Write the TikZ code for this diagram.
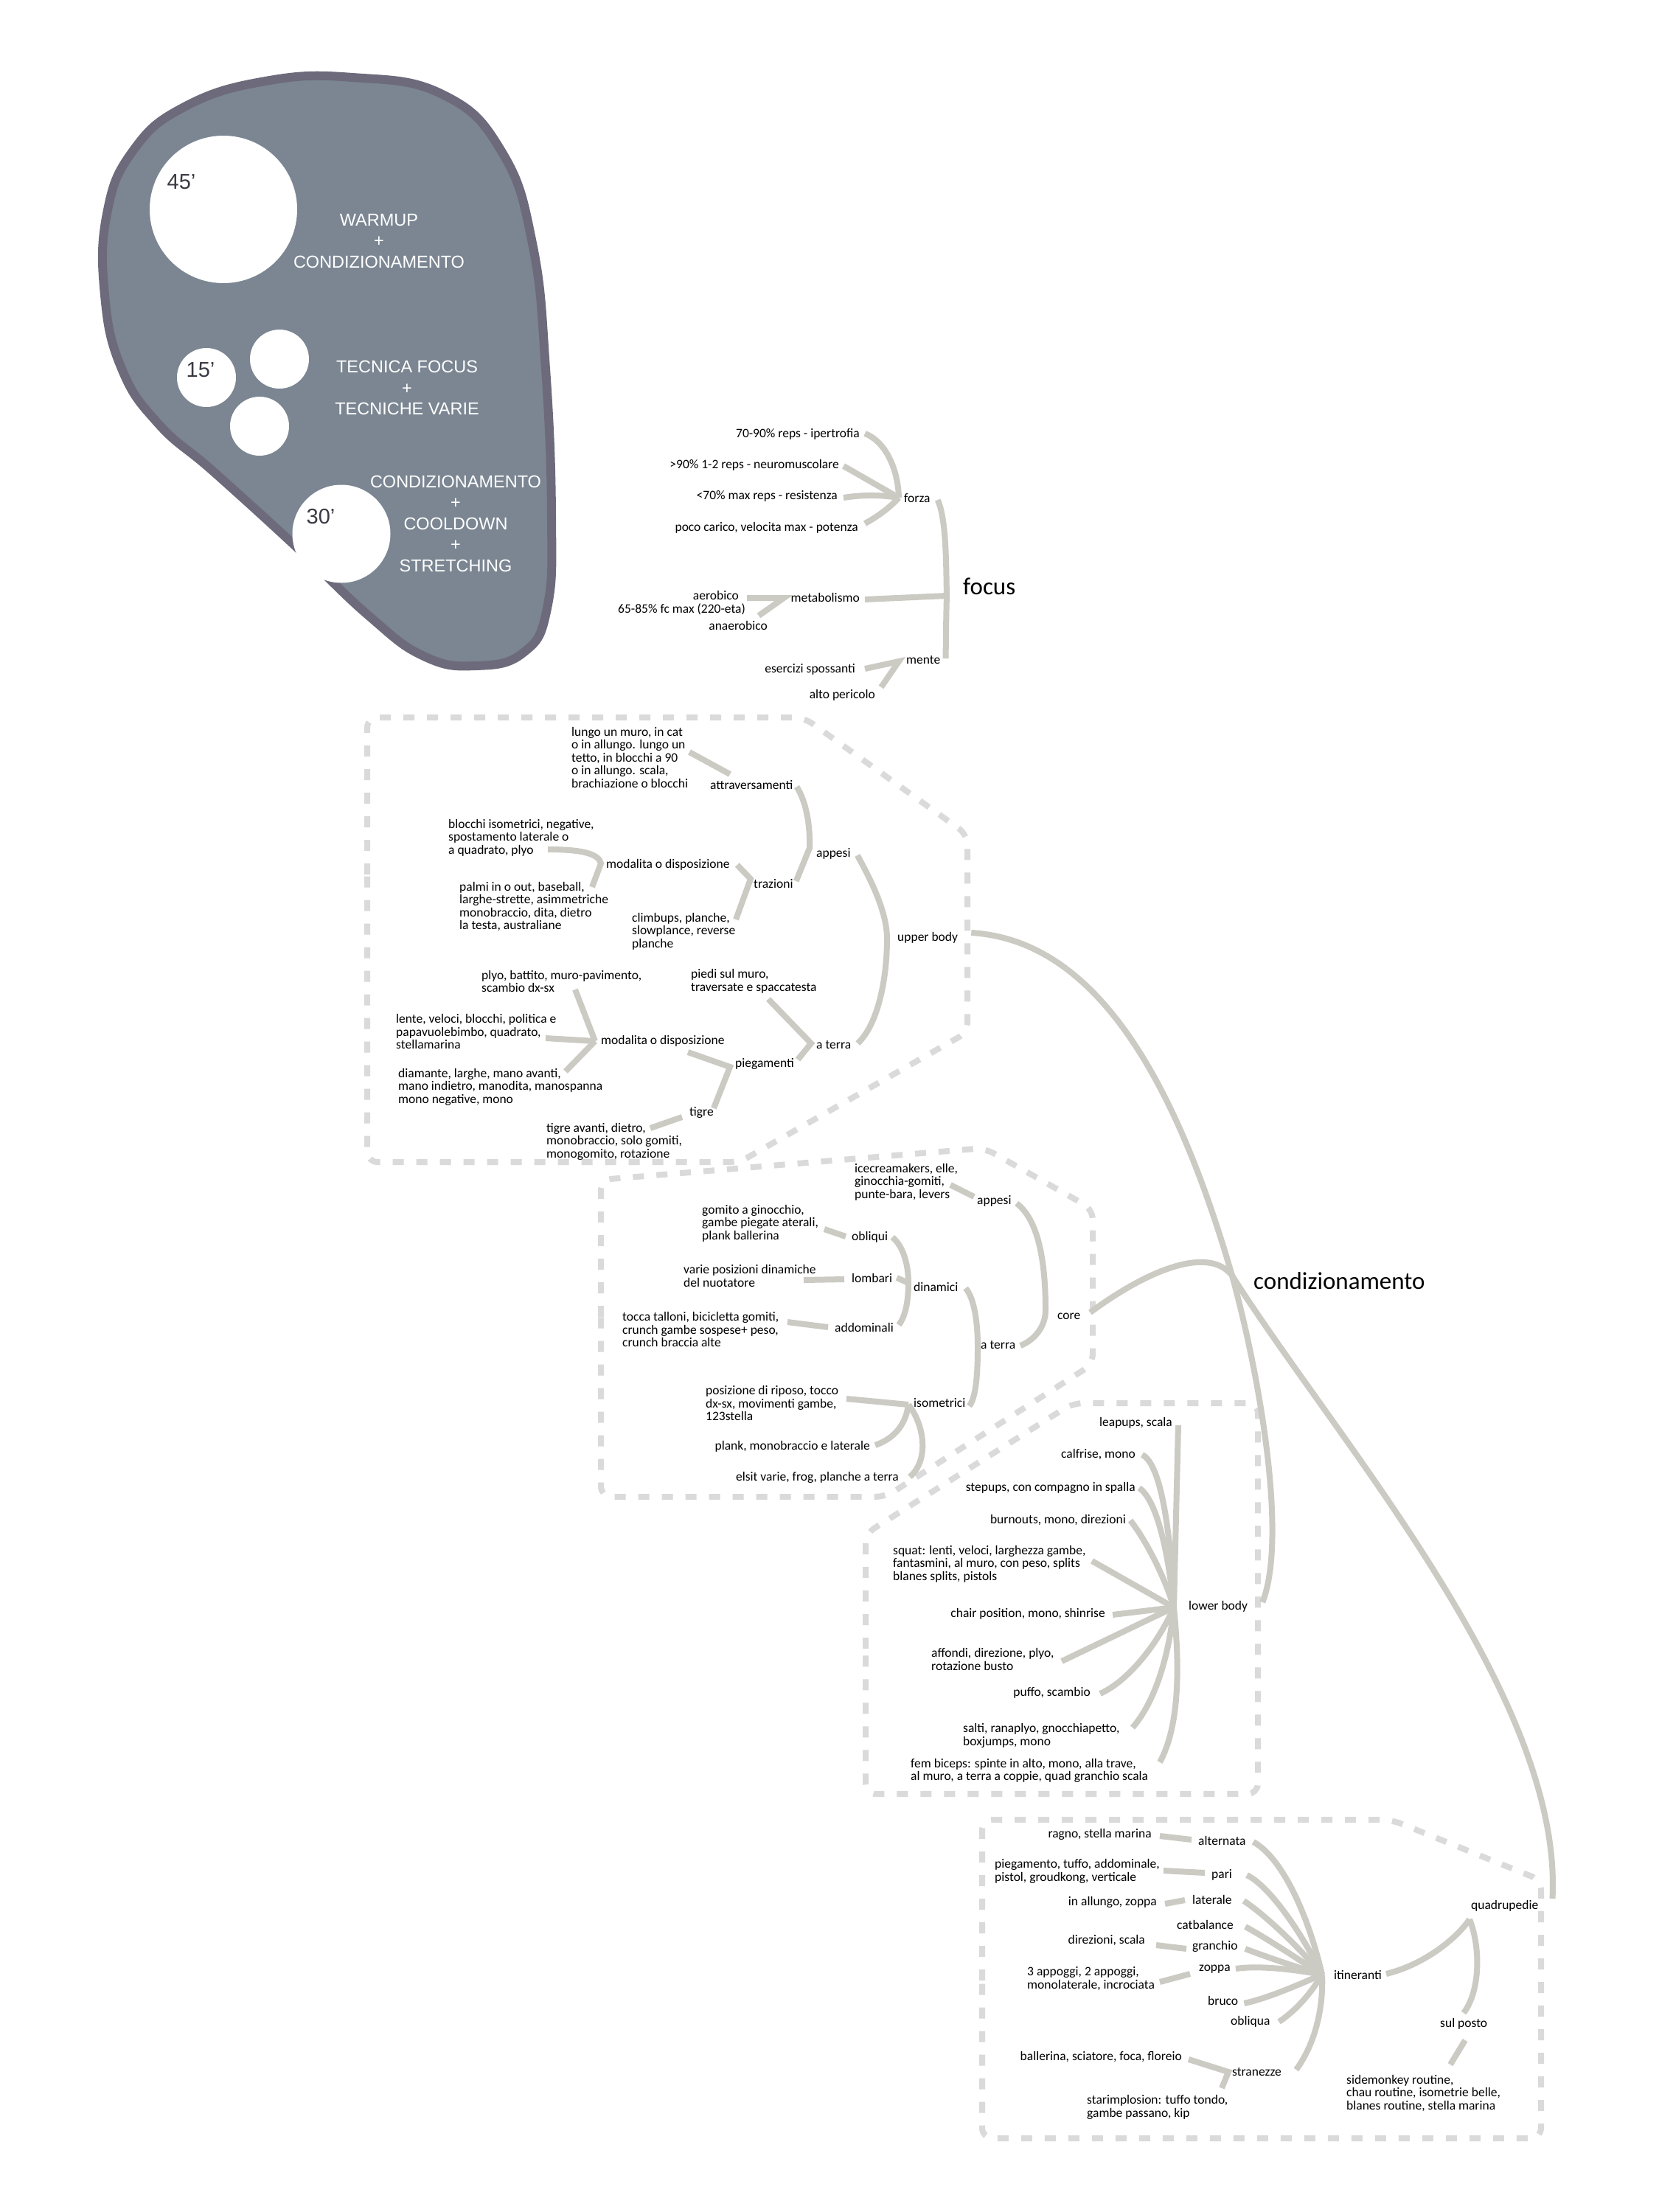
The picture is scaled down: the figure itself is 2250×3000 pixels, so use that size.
\documentclass[tikz,border=0pt]{standalone}
\usepackage{fontspec}
\setmainfont{Carlito}
\newfontfamily\blobfont{Liberation Sans}
\definecolor{linkgrey}{HTML}{CBCAC3}
\definecolor{fencegrey}{HTML}{DADADA}
\definecolor{blobfill}{HTML}{7B8692}
\definecolor{blobedge}{HTML}{6D6A7B}
\definecolor{minsgrey}{HTML}{3A3A44}
\tikzset{
  lbl/.style={inner sep=0pt, align=left, font=\fontsize{17.5}{17.5}\selectfont},
  big/.style={inner sep=0pt, font=\fontsize{33}{36}\selectfont},
  link/.style={draw=linkgrey, line width=8pt},
  fence/.style={draw=fencegrey, line width=8pt, dash pattern=on 15pt off 17pt, rounded corners=14pt},
  spot/.style={circle, fill=white, inner sep=0pt},
  mins/.style={inner sep=0pt, text=minsgrey, font=\blobfont\fontsize{29}{29}\selectfont},
  blobtxt/.style={inner sep=0pt, align=center, text=white, font=\blobfont\fontsize{23.5}{28.5}\selectfont}
}
\begin{document}
\begin{tikzpicture}[x=1pt, y=-1pt]
\useasboundingbox (0,0) rectangle (2250,3000);
\fill[white] (0,0) rectangle (2250,3000);

\draw[blobedge, fill=blobfill, line width=12pt] plot[smooth cycle, tension=0.75] coordinates {(478,105) (600,128) (680,205) (722,330) (740,500) (748,700) (742,825) (710,885) (645,903) (575,890) (500,835) (400,740) (290,640) (215,575) (165,500) (142,400) (145,290) (180,205) (250,145) (360,110)};
\node[spot, minimum size=200pt] (c45) at (303,284) {};
\node[spot, minimum size=80pt] (c15) at (280,512) {};
\node[spot, minimum size=80pt] (c15b) at (379,487) {};
\node[spot, minimum size=80pt] (c15c) at (352,578) {};
\node[spot, minimum size=133pt] (c30) at (463,724) {};
\node[mins] (m45) at (246,247) {45’};
\node[mins] (m15) at (272,502) {15’};
\node[mins] (m30) at (435,701) {30’};
\node[blobtxt] (warm) at (514,327) {WARMUP\\+\\CONDIZIONAMENTO};
\node[blobtxt] (tecn) at (552,526) {TECNICA FOCUS\\+\\TECNICHE VARIE};
\node[blobtxt] (cool) at (618,710) {CONDIZIONAMENTO\\+\\COOLDOWN\\+\\STRETCHING};

\draw[fence] (498,1200) -- (498,973) -- (1090,973) -- (1312,1132) -- (1312,1400) -- (1003,1576) -- (498,1576) -- cycle;
\draw[fence] (815,1800) -- (815,1600) -- (1335,1557) -- (1482,1640) -- (1482,1850) -- (1201,2030) -- (815,2030) -- cycle;
\draw[fence] (1174,2250) -- (1174,2080) -- (1455,1903) -- (1706,1903) -- (1706,2433) -- (1174,2433) -- cycle;
\draw[fence] (1332,2700) -- (1332,2468) -- (1887,2468) -- (2090,2550) -- (2090,2900) -- (1332,2900) -- cycle;

\node[lbl, anchor=east] (ipert) at (1166,589) {70-90\% reps - ipertrofia};
\node[lbl, anchor=east] (neuro) at (1138,631) {>90\% 1-2 reps - neuromuscolare};
\node[lbl, anchor=east] (resist) at (1136,673) {<70\% max reps - resistenza};
\node[lbl, anchor=east] (poten) at (1164,716) {poco carico, velocita max - potenza};
\node[lbl, anchor=west] (forza) at (1226,676) {forza};
\node[lbl, anchor=east] (metab) at (1166,810) {metabolismo};
\node[lbl, anchor=east] (aerob) at (1002,807) {aerobico};
\node[lbl, anchor=east] (fcmax) at (1011,826) {65-85\% fc max (220-eta)};
\node[lbl, anchor=east] (anaer) at (1041,848) {anaerobico};
\node[lbl, anchor=west] (mente) at (1229,895) {mente};
\node[lbl, anchor=east] (sposs) at (1160,908) {esercizi spossanti};
\node[lbl, anchor=east] (pericolo) at (1187,943) {alto pericolo};
\node[big, anchor=west] (focus) at (1306,795) {focus};

\coordinate (forzaJ) at (1219,675);
\coordinate (focusJ) at (1284,808);
\coordinate (metabJ) at (1063,811);
\coordinate (menteJ) at (1219,897);
\draw[link] ([shift={(7,-1)}]ipert.east) .. controls (1200,598) and (1218,635) .. (forzaJ);
\draw[link] ([shift={(6,1)}]neuro.east) -- (forzaJ);
\draw[link] ([shift={(8,2)}]resist.east) .. controls (1175,670) and (1200,672) .. (forzaJ);
\draw[link] ([shift={(9,-6)}]poten.east) .. controls (1195,698) and (1210,685) .. (forzaJ);
\draw[link] ([shift={(10,2)}]forza.east) .. controls (1284,705) and (1283,770) .. (focusJ) .. controls (1283,840) and (1283,870) .. ([shift={(7,-2)}]mente.east);
\draw[link] ([shift={(7,3)}]metab.east) -- (focusJ);
\draw[link] ([shift={(11,4)}]aerob.east) -- (metabJ) -- ([shift={(-12,-13)}]anaer.east);
\draw[link] ([shift={(13,-1)}]sposs.east) -- (menteJ) -- ([shift={(8,-11)}]pericolo.east);

\node[lbl, anchor=west] (muro) at (775,1027) {lungo un muro, in cat\\o in allungo. lungo un\\tetto, in blocchi a 90\\o in allungo. scala,\\brachiazione o blocchi};
\node[lbl, anchor=west] (attrav) at (963,1065) {attraversamenti};
\node[lbl, anchor=west] (isom) at (608,1136) {blocchi isometrici, negative,\\spostamento laterale o\\a quadrato, plyo};
\node[lbl, anchor=west] (modal) at (822,1173) {modalita o disposizione};
\node[lbl, anchor=west] (palmi) at (623,1229.5) {palmi in o out, baseball,\\larghe-strette, asimmetriche\\monobraccio, dita, dietro\\la testa, australiane};
\node[lbl, anchor=west] (climb) at (857,1263) {climbups, planche,\\slowplance, reverse\\planche};
\node[lbl, anchor=west] (trazioni) at (1022,1199) {trazioni};
\node[lbl, anchor=west] (appesi) at (1107,1158) {appesi};
\node[lbl, anchor=west] (upper) at (1217,1272) {upper body};
\node[lbl, anchor=west] (plyo) at (653,1331) {plyo, battito, muro-pavimento,\\scambio dx-sx};
\node[lbl, anchor=west] (lente) at (537,1399) {lente, veloci, blocchi, politica e\\papavuolebimbo, quadrato,\\stellamarina};
\node[lbl, anchor=west] (modalb) at (815,1412) {modalita o disposizione};
\node[lbl, anchor=west] (diam) at (540,1474) {diamante, larghe, mano avanti,\\mano indietro, manodita, manospanna\\mono negative, mono};
\node[lbl, anchor=west] (tigrav) at (741,1548) {tigre avanti, dietro,\\monobraccio, solo gomiti,\\monogomito, rotazione};
\node[lbl, anchor=west] (piedi) at (937,1331) {piedi sul muro,\\traversate e spaccatesta};
\node[lbl, anchor=west] (aterra) at (1107,1417) {a terra};
\node[lbl, anchor=west] (piegam) at (997,1443) {piegamenti};
\node[lbl, anchor=west] (tigre) at (935,1509) {tigre};

\coordinate (modalJ) at (815,1171);
\coordinate (trazJ) at (1018,1192);
\coordinate (appesiJ) at (1098,1150);
\coordinate (upperJ) at (1203,1273);
\coordinate (modalbJ) at (807,1412);
\coordinate (piegJ) at (990,1447);
\coordinate (aterraJ) at (1100,1415);
\draw[link] ([shift={(160,-7)}]muro.west) -- ([shift={(27,-15)}]attrav.west);
\draw[link] ([shift={(135,16)}]isom.west) .. controls (790,1152) and (812,1158) .. (modalJ) -- ([shift={(180,-26.5)}]palmi.west);
\draw[link] ([shift={(10,0)}]modal.east) -- (trazJ) -- ([shift={(141,-16)}]climb.west);
\draw[link] ([shift={(5,2)}]attrav.east) .. controls (1092,1085) and (1099,1115) .. (appesiJ) -- ([shift={(4,-4)}]trazioni.east);
\draw[link] ([shift={(9,2)}]appesi.east) .. controls (1185,1200) and (1203,1240) .. (upperJ) .. controls (1203,1330) and (1190,1390) .. ([shift={(9,-2)}]aterra.east);
\draw[link] ([shift={(127,11)}]plyo.west) -- (modalbJ);
\draw[link] ([shift={(203,9)}]lente.west) -- (modalbJ);
\draw[link] ([shift={(227,-21)}]diam.west) -- (modalbJ);
\draw[link] ([shift={(118,15)}]modalb.west) -- (piegJ) -- ([shift={(0,-6)}]tigre.east);
\draw[link] ([shift={(105,24)}]piedi.west) -- (aterraJ) -- ([shift={(5,-6)}]piegam.east);
\draw[link] ([shift={(141,-18)}]tigrav.west) -- ([shift={(-10,6)}]tigre.west);

\node[lbl, anchor=west] (icecr) at (1159,1603) {icecreamakers, elle,\\ginocchia-gomiti,\\punte-bara, levers};
\node[lbl, anchor=west] (appesc) at (1325,1629) {appesi};
\node[lbl, anchor=west] (gomito) at (952,1659) {gomito a ginocchio,\\gambe piegate aterali,\\plank ballerina};
\node[lbl, anchor=west] (obliq) at (1155,1678) {obliqui};
\node[lbl, anchor=west] (varie) at (927,1730.5) {varie posizioni dinamiche\\del nuotatore};
\node[lbl, anchor=west] (lomb) at (1155,1733) {lombari};
\node[lbl, anchor=west] (tocca) at (844,1803) {tocca talloni, bicicletta gomiti,\\crunch gambe sospese+ peso,\\crunch braccia alte};
\node[lbl, anchor=west] (addom) at (1132,1800) {addominali};
\node[lbl, anchor=west] (dinam) at (1239,1745) {dinamici};
\node[lbl, anchor=west] (aterc) at (1330,1824) {a terra};
\node[lbl, anchor=west] (core) at (1434,1785) {core};
\node[lbl, anchor=west] (iso) at (1239,1903) {isometrici};
\node[lbl, anchor=west] (posiz) at (957,1903) {posizione di riposo, tocco\\dx-sx, movimenti gambe,\\123stella};
\node[lbl, anchor=east] (plank) at (1180,1962) {plank, monobraccio e laterale};
\node[lbl, anchor=east] (elsit) at (1219,2004) {elsit varie, frog, planche a terra};

\coordinate (obliqJ) at (1232,1740);
\coordinate (dinamJ) at (1326,1827);
\coordinate (coreJ) at (1418,1777);
\coordinate (isoJ) at (1232,1905);
\draw[link] ([shift={(130,4)}]icecr.west) -- ([shift={(-4,-6)}]appesc.west);
\draw[link] ([shift={(166,8)}]gomito.west) -- ([shift={(-8,-1)}]obliq.west);
\draw[link] ([shift={(163,5.5)}]varie.west) -- ([shift={(-10,2)}]lomb.west);
\draw[link] ([shift={(224,-10)}]tocca.west) -- ([shift={(-9,0)}]addom.west);
\draw[link] ([shift={(6,0)}]obliq.east) .. controls (1225,1690) and (1232,1715) .. (obliqJ) .. controls (1232,1765) and (1228,1785) .. ([shift={(7,-3)}]addom.east);
\draw[link] ([shift={(6,0)}]lomb.east) -- (obliqJ);
\draw[link] ([shift={(10,2)}]dinam.east) .. controls (1322,1762) and (1326,1795) .. (dinamJ) .. controls (1326,1862) and (1324,1895) .. ([shift={(5,4)}]iso.east);
\draw[link] ([shift={(7,3)}]appesc.east) .. controls (1405,1652) and (1418,1700) .. (coreJ) .. controls (1418,1800) and (1402,1818) .. ([shift={(6.5,1)}]aterc.east);
\draw[link] ([shift={(191,-6)}]posiz.west) -- (isoJ);
\draw[link] (isoJ) .. controls (1228,1935) and (1210,1952) .. ([shift={(7,-2)}]plank.east);
\draw[link] (isoJ) .. controls (1252,1930) and (1262,1978) .. ([shift={(15,-1)}]elsit.east);

\node[big, anchor=west] (condiz) at (1700,1737) {condizionamento};
\node[lbl, anchor=east] (leap) at (1590,1930) {leapups, scala};
\node[lbl, anchor=east] (calf) at (1540,1973) {calfrise, mono};
\node[lbl, anchor=east] (stepup) at (1540,2018) {stepups, con compagno in spalla};
\node[lbl, anchor=east] (burn) at (1527,2062) {burnouts, mono, direzioni};
\node[lbl, anchor=west] (squat) at (1211,2121) {squat: lenti, veloci, larghezza gambe,\\fantasmini, al muro, con peso, splits\\blanes splits, pistols};
\node[lbl, anchor=east] (chair) at (1499,2189) {chair position, mono, shinrise};
\node[lbl, anchor=west] (lower) at (1612,2179) {lower body};
\node[lbl, anchor=west] (affondi) at (1263,2250.5) {affondi, direzione, plyo,\\rotazione busto};
\node[lbl, anchor=east] (puffo) at (1479,2296) {puffo, scambio};
\node[lbl, anchor=west] (salti) at (1306,2354) {salti, ranaplyo, gnocchiapetto,\\boxjumps, mono};
\node[lbl, anchor=west] (fem) at (1235,2401.5) {fem biceps: spinte in alto, mono, alla trave,\\al muro, a terra a coppie, quad granchio scala};

\coordinate (lowerJ) at (1592,2180);
\draw[link] ([shift={(8,3)}]leap.east) -- (lowerJ);
\draw[link] ([shift={(9,0)}]calf.east) .. controls (1575,1985) and (1588,2080) .. (lowerJ);
\draw[link] ([shift={(5,0)}]stepup.east) .. controls (1570,2035) and (1585,2110) .. (lowerJ);
\draw[link] ([shift={(6,0)}]burn.east) .. controls (1555,2090) and (1580,2140) .. (lowerJ);
\draw[link] ([shift={(270,-4)}]squat.west) -- (lowerJ);
\draw[link] ([shift={(10,1)}]chair.east) -- (lowerJ);
\draw[link] ([shift={(177,2.5)}]affondi.west) -- (lowerJ);
\draw[link] ([shift={(13,1)}]puffo.east) .. controls (1530,2280) and (1570,2230) .. (lowerJ);
\draw[link] ([shift={(230,-11)}]salti.west) .. controls (1565,2310) and (1585,2250) .. (lowerJ);
\draw[link] ([shift={(338,-11.5)}]fem.west) .. controls (1600,2340) and (1600,2260) .. (lowerJ);

\node[lbl, anchor=east] (ragno) at (1562,2488) {ragno, stella marina};
\node[lbl, anchor=west] (altern) at (1625,2496) {alternata};
\node[lbl, anchor=west] (pieg) at (1349,2538) {piegamento, tuffo, addominale,\\pistol, groudkong, verticale};
\node[lbl, anchor=west] (pari) at (1643,2543) {pari};
\node[lbl, anchor=east] (allungo) at (1569,2580) {in allungo, zoppa};
\node[lbl, anchor=west] (later) at (1617,2576) {laterale};
\node[lbl, anchor=west] (catbal) at (1596,2610) {catbalance};
\node[lbl, anchor=east] (direz) at (1553,2632) {direzioni, scala};
\node[lbl, anchor=west] (granch) at (1617,2640) {granchio};
\node[lbl, anchor=west] (zoppa) at (1626,2671) {zoppa};
\node[lbl, anchor=west] (appog) at (1393,2683.5) {3 appoggi, 2 appoggi,\\monolaterale, incrociata};
\node[lbl, anchor=west] (bruco) at (1638,2713) {bruco};
\node[lbl, anchor=west] (obliqua) at (1669,2742) {obliqua};
\node[lbl, anchor=east] (baller) at (1603,2790) {ballerina, sciatore, foca, floreio};
\node[lbl, anchor=west] (stran) at (1671,2810) {stranezze};
\node[lbl, anchor=west] (starim) at (1474,2858) {starimplosion: tuffo tondo,\\gambe passano, kip};
\node[lbl, anchor=west] (itin) at (1809,2678) {itineranti};
\node[lbl, anchor=west] (quadr) at (1995,2585) {quadrupedie};
\node[lbl, anchor=west] (sulp) at (1953,2745) {sul posto};
\node[lbl, anchor=west] (sidem) at (1826,2839) {sidemonkey routine,\\chau routine, isometrie belle,\\blanes routine, stella marina};

\coordinate (itinJ) at (1793,2678);
\coordinate (stranJ) at (1666,2810);
\coordinate (quadrJ) at (1993,2603);
\draw[link] ([shift={(11,2)}]ragno.east) -- ([shift={(-9,-1)}]altern.west);
\draw[link] ([shift={(229,-1)}]pieg.west) -- ([shift={(-9,-3)}]pari.west);
\draw[link] ([shift={(11,2)}]allungo.east) -- ([shift={(-10,1)}]later.west);
\draw[link] ([shift={(15,6)}]direz.east) -- ([shift={(-8,3)}]granch.west);
\draw[link] ([shift={(180,4.5)}]appog.west) -- ([shift={(-12,6)}]zoppa.west);
\draw[link] ([shift={(9,3)}]baller.east) -- (stranJ) -- ([shift={(183,-26)}]starim.west);
\draw[link] ([shift={(10,2)}]altern.east) .. controls (1740,2520) and (1775,2600) .. (itinJ);
\draw[link] ([shift={(20,0)}]pari.east) .. controls (1725,2560) and (1770,2630) .. (itinJ);
\draw[link] ([shift={(16,2)}]later.east) .. controls (1720,2600) and (1765,2645) .. (itinJ);
\draw[link] ([shift={(16,3)}]catbal.east) .. controls (1720,2630) and (1765,2660) .. (itinJ);
\draw[link] ([shift={(10,3)}]granch.east) .. controls (1720,2655) and (1765,2670) .. (itinJ);
\draw[link] ([shift={(7,-1)}]zoppa.east) .. controls (1710,2665) and (1760,2672) .. (itinJ);
\draw[link] ([shift={(8,4)}]bruco.east) .. controls (1720,2710) and (1765,2690) .. (itinJ);
\draw[link] ([shift={(12,0)}]obliqua.east) .. controls (1760,2725) and (1780,2700) .. (itinJ);
\draw[link] ([shift={(20,-3)}]stran.east) .. controls (1785,2770) and (1795,2720) .. (itinJ);
\draw[link] ([shift={(6,-1)}]itin.east) .. controls (1930,2665) and (1975,2630) .. (quadrJ);
\draw[link] (quadrJ) .. controls (2008,2640) and (2008,2700) .. ([shift={(32,-15)}]sulp.west);
\draw[link] ([shift={(34,22)}]sulp.west) -- ([shift={(141,-39)}]sidem.west);

\coordinate (condJ) at (1671,1730);
\draw[link] ([shift={(18,-7)}]upper.east) .. controls (1480,1275) and (1590,1450) .. (condJ);
\draw[link] ([shift={(13,-5)}]core.east) .. controls (1560,1720) and (1640,1690) .. (condJ);
\draw[link] (condJ) .. controls (1712,1880) and (1745,2090) .. ([shift={(20,-6)}]lower.east);
\draw[link] (condJ) .. controls (1810,1950) and (2120,2300) .. ([shift={(19,-10)}]quadr.east);
\end{tikzpicture}
\end{document}
